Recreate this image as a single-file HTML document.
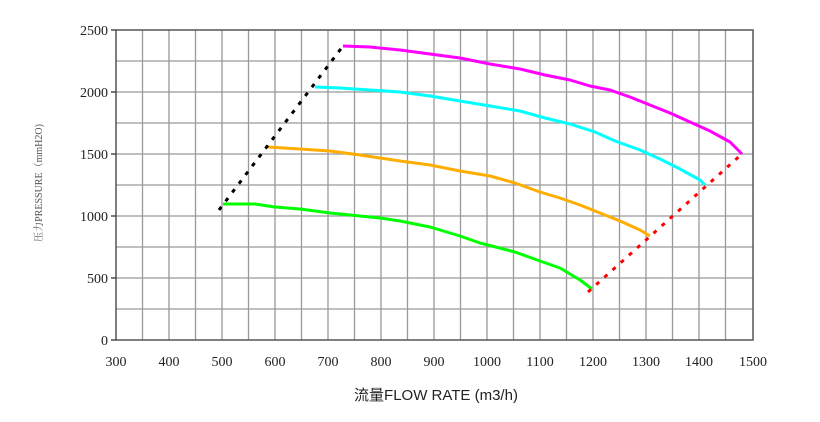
<!DOCTYPE html>
<html><head><meta charset="utf-8"><style>body{margin:0;background:#fff}svg{display:block}</style></head><body>
<svg width="820" height="422" xmlns="http://www.w3.org/2000/svg">
<g stroke="#999" stroke-width="1.3">
<line x1="142.5" y1="30" x2="142.5" y2="340"/><line x1="169" y1="30" x2="169" y2="340"/><line x1="195.5" y1="30" x2="195.5" y2="340"/><line x1="222" y1="30" x2="222" y2="340"/><line x1="248.5" y1="30" x2="248.5" y2="340"/><line x1="275" y1="30" x2="275" y2="340"/><line x1="301.5" y1="30" x2="301.5" y2="340"/><line x1="328" y1="30" x2="328" y2="340"/><line x1="354.5" y1="30" x2="354.5" y2="340"/><line x1="381" y1="30" x2="381" y2="340"/><line x1="407.5" y1="30" x2="407.5" y2="340"/><line x1="434" y1="30" x2="434" y2="340"/><line x1="460.5" y1="30" x2="460.5" y2="340"/><line x1="487" y1="30" x2="487" y2="340"/><line x1="513.5" y1="30" x2="513.5" y2="340"/><line x1="540" y1="30" x2="540" y2="340"/><line x1="566.5" y1="30" x2="566.5" y2="340"/><line x1="593" y1="30" x2="593" y2="340"/><line x1="619.5" y1="30" x2="619.5" y2="340"/><line x1="646" y1="30" x2="646" y2="340"/><line x1="672.5" y1="30" x2="672.5" y2="340"/><line x1="699" y1="30" x2="699" y2="340"/><line x1="725.5" y1="30" x2="725.5" y2="340"/>
<line x1="116" y1="61" x2="753" y2="61"/><line x1="116" y1="92" x2="753" y2="92"/><line x1="116" y1="123" x2="753" y2="123"/><line x1="116" y1="154" x2="753" y2="154"/><line x1="116" y1="185" x2="753" y2="185"/><line x1="116" y1="216" x2="753" y2="216"/><line x1="116" y1="247" x2="753" y2="247"/><line x1="116" y1="278" x2="753" y2="278"/><line x1="116" y1="309" x2="753" y2="309"/>
</g>
<rect x="116" y="30" width="637" height="310" fill="none" stroke="#555" stroke-width="1.5"/>
<g stroke="#333" stroke-width="1.3"><line x1="111" y1="30" x2="116" y2="30"/><line x1="111" y1="92" x2="116" y2="92"/><line x1="111" y1="154" x2="116" y2="154"/><line x1="111" y1="216" x2="116" y2="216"/><line x1="111" y1="278" x2="116" y2="278"/><line x1="111" y1="340" x2="116" y2="340"/></g>
<g fill="none" stroke-width="3" stroke-linejoin="round">
<polyline stroke="#ff00ff" points="343,46 370,47 400,50 430,54 460,58 490,64 520,69 545,75 570,80 590,86 610,90 630,97 650,105 670,113 690,122 710,131 730,142 742,154"/>
<polyline stroke="#00ffff" points="315,87 340,88 370,90 400,92 430,96 460,101 490,106 520,111 545,118 570,124 595,132 615,141 640,150 660,159 680,169 700,180 705,185"/>
<polyline stroke="#ffad00" points="268,147 300,149 330,151 360,155 380,158 400,161 430,165 460,171 490,176 515,183 540,192 560,198 580,205 600,213 620,221 640,230 650,236"/>
<polyline stroke="#00ff00" points="223,204 255,204 275,207 300,209 330,213 350,215 380,218 400,221 430,227 460,236 480,243 515,252 540,261 560,268 580,280 592,289"/>
<line x1="219" y1="210" x2="343" y2="46" stroke="#000" stroke-dasharray="4,7"/>
<line x1="588" y1="292" x2="743" y2="153" stroke="#ff0000" stroke-dasharray="4,7"/>
</g>
<g font-family="Liberation Serif, serif" font-size="14" fill="#222" text-anchor="end">
<text x="108" y="35">2500</text><text x="108" y="97">2000</text><text x="108" y="159">1500</text><text x="108" y="221">1000</text><text x="108" y="283">500</text><text x="108" y="345">0</text></g>
<g font-family="Liberation Serif, serif" font-size="14" fill="#222" text-anchor="middle">
<text x="116" y="366">300</text><text x="169" y="366">400</text><text x="222" y="366">500</text><text x="275" y="366">600</text><text x="328" y="366">700</text><text x="381" y="366">800</text><text x="434" y="366">900</text><text x="487" y="366">1000</text><text x="540" y="366">1100</text><text x="593" y="366">1200</text><text x="646" y="366">1300</text><text x="699" y="366">1400</text><text x="753" y="366">1500</text></g>
<text x="436" y="400" text-anchor="middle" font-family="Liberation Sans, 'Noto Sans CJK SC', sans-serif" font-size="15" fill="#222">流量FLOW RATE (m3/h)</text>
<text transform="translate(42,183) rotate(-90)" text-anchor="middle" font-family="Liberation Serif, 'Noto Serif CJK SC', serif" font-size="10" fill="#555">压力PRESSURE（mmH2O)</text>
</svg>
</body></html>
